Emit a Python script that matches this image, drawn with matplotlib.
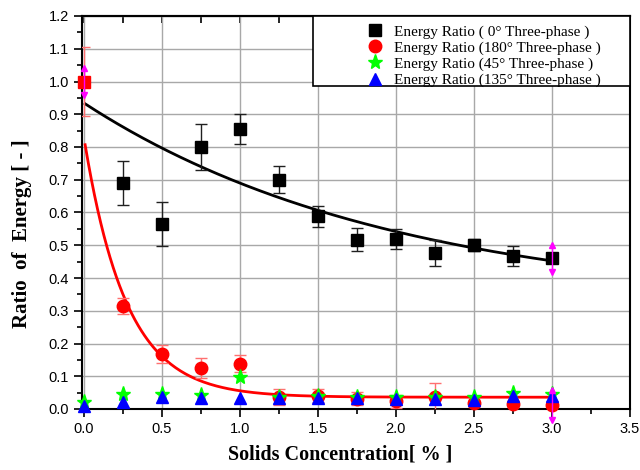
import numpy as np
import matplotlib
matplotlib.use("Agg")
import matplotlib.pyplot as plt
from matplotlib.patches import Rectangle
from matplotlib.ticker import MultipleLocator

# solids concentration [%]
conc = [0.0, 0.25, 0.5, 0.75, 1.0, 1.25, 1.5, 1.75, 2.0, 2.25, 2.5, 2.75, 3.0]

# energy ratio, 0 deg three-phase
e0 = [1.0, 0.69, 0.566, 0.80, 0.855, 0.70, 0.588, 0.517, 0.519, 0.477, 0.50, 0.468, 0.46]
e0_err = [0, 0.067, 0.067, 0.069, 0.046, 0.041, 0.033, 0.035, 0.03, 0.04, 0.018, 0.03, 0]

# energy ratio, 180 deg three-phase
e180 = [1.0, 0.315, 0.168, 0.126, 0.138, 0.036, 0.04, 0.032, 0.024, 0.038, 0.017, 0.014, 0.012]
e180_err = [0.105, 0.025, 0.027, 0.03, 0.026, 0.024, 0.02, 0.021, 0.02, 0.041, 0.01, 0, 0]

# energy ratio, 45 deg and 135 deg three-phase
e45 = [0.022, 0.045, 0.045, 0.043, 0.099, 0.038, 0.04, 0.038, 0.038, 0.036, 0.038, 0.048, 0.046]
e135 = [0.009, 0.022, 0.036, 0.035, 0.033, 0.033, 0.035, 0.033, 0.032, 0.03, 0.029, 0.04, 0.04]

# magenta arrow error bars
arr_x = [0.0, 3.0, 3.0]
arr_y = [1.0, 0.46, 0.012]
arr_err = [0.05, 0.05, 0.053]

# exponential decay fits y = y0 + A*exp(-x/t)
fit0 = (0.315, 0.62, 1.99)
fit180 = (0.036, 0.80, 0.27)

labels = ["Energy Ratio ( 0\u00b0 Three-phase )",
          "Energy Ratio (180\u00b0 Three-phase )",
          "Energy Ratio (45\u00b0 Three-phase )",
          "Energy Ratio (135\u00b0 Three-phase )"]

plt.rcParams['font.family'] = ['Liberation Sans', 'DejaVu Sans']
serif = ['Liberation Serif', 'DejaVu Serif']

fig = plt.figure(figsize=(6.4, 4.7), dpi=100)
ax = fig.add_axes([82/640, 1-409/470, 548/640, 393/470])

ax.grid(True, color='#a8a8a8', lw=1.0)
ax.set_axisbelow(True)

xf = np.linspace(0.01, 3.0, 300)
ax.plot(xf, fit0[0] + fit0[1]*np.exp(-xf/fit0[2]), color='black', lw=2, zorder=3)
ax.plot(xf, fit180[0] + fit180[1]*np.exp(-xf/fit180[2]), color='red', lw=2, zorder=3)

x = np.array(conc)
ax.errorbar(x[1:], e0[1:], yerr=e0_err[1:], fmt='none', ecolor='#202020', elinewidth=1,
            capsize=4, capthick=1, zorder=4)
ax.errorbar(x, e180, yerr=e180_err, fmt='none', ecolor='#ff7070', elinewidth=1,
            capsize=4, capthick=1, zorder=4)

h0, = ax.plot(x[1:], e0[1:], 's', color='black', ms=8, zorder=5, clip_on=False)
h180, = ax.plot(x[1:], e180[1:], 'o', color='red', ms=9, zorder=5, clip_on=False)
ax.plot(x[:1], e180[:1], 's', color='red', ms=8, zorder=6, clip_on=False)
h45, = ax.plot(x, e45, '*', color='#00ff00', ms=11, zorder=6, clip_on=False)
h135, = ax.plot(x, e135, '^', color='blue', ms=9, zorder=7, clip_on=False)

# magenta arrows
for xa, ya, ea in zip(arr_x, arr_y, arr_err):
    ax.plot([xa, xa], [ya - ea + 0.01, ya + ea - 0.01], color='magenta', lw=1, zorder=8, clip_on=False)
    ax.plot([xa], [ya + ea - 0.008], '^', color='magenta', ms=5, zorder=8, clip_on=False)
    ax.plot([xa], [ya - ea + 0.008], 'v', color='magenta', ms=5, zorder=8, clip_on=False)

ax.set_xlim(-0.01, 3.5)
ax.set_ylim(0, 1.2)
ax.xaxis.set_minor_locator(MultipleLocator(0.25))
ax.yaxis.set_minor_locator(MultipleLocator(0.05))
ax.set_xticks(np.arange(0, 3.51, 0.5))
ax.set_xticklabels(["%.1f" % v for v in np.arange(0, 3.51, 0.5)])
ax.set_yticks(np.arange(0, 1.21, 0.1))
ax.set_yticklabels(["%.1f" % v for v in np.arange(0, 1.21, 0.1)])

ax.tick_params(axis='both', which='major', direction='out', length=6, width=1.2,
               labelsize=10.5, top=False, right=False)
ax.tick_params(axis='both', which='minor', direction='out', length=3.5, width=1.2,
               top=False, right=False)
# top axis ticks pointing inward
sec = ax.secondary_xaxis('top')
sec.set_xticks(np.arange(0, 3.51, 0.25))
sec.tick_params(direction='in', length=5, width=1.2, labeltop=False)
sec.spines['top'].set_linewidth(1.5)

for s in ax.spines.values():
    s.set_linewidth(1.5)

ax.set_xlabel("Solids Concentration[ % ]", family=serif, fontweight='bold', fontsize=14.5,
              va='center', ha='center')
ax.xaxis.set_label_coords(0.471, -0.117)
ax.set_ylabel("Ratio  of  Energy [ - ]", family=serif, fontweight='bold', fontsize=15,
              va='center', ha='center')
ax.yaxis.set_label_coords(-0.11, 0.445)

# legend box
ax.add_patch(Rectangle(((313-82)/548, (409-86)/393), (630-313)/548, 70/393,
                       transform=ax.transAxes, facecolor='white', edgecolor='black',
                       lw=1.2, zorder=9, clip_on=False))
leg = ax.legend([h0, h180, h45, h135], labels, loc='upper left',
                bbox_to_anchor=((357-82)/548, 1.005), frameon=False,
                prop={'family': serif, 'size': 11}, handlelength=1.0,
                handletextpad=0.7, labelspacing=0.15, borderpad=0.2)
leg.set_zorder(10)

fig.savefig("out.png", dpi=100)
